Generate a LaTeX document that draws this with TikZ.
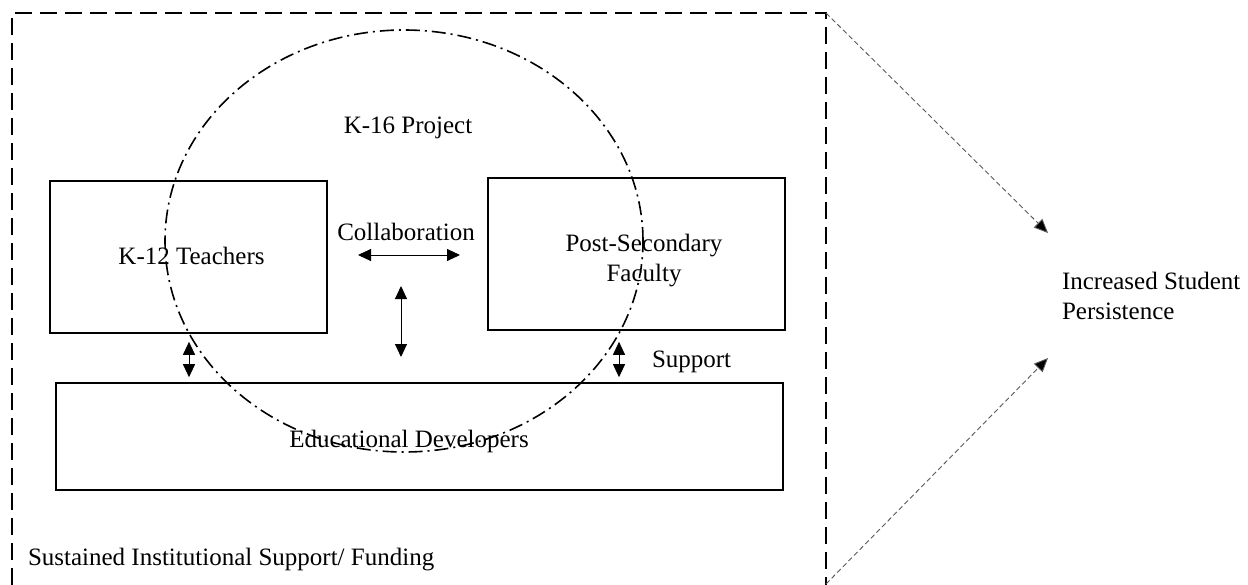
\documentclass[tikz,border=0pt]{standalone}
\usepackage{fontspec}
\setmainfont{Liberation Serif}
\usetikzlibrary{arrows.meta,calc,shapes.geometric}

\tikzset{
  txt/.style={font=\fontsize{25}{30}\selectfont, inner sep=0pt, outer sep=0pt},
  box/.style={draw, line width=1.6pt, rectangle, inner sep=0pt},
  frameline/.style={line width=1.8pt, dash pattern=on 17pt off 8pt},
  projring/.style={draw, ellipse, line width=1.6pt, inner sep=0pt,
    dash pattern=on 14pt off 5pt on 2pt off 5pt},
  dbl/.style={line width=1pt, {Triangle[length=13pt,width=12pt]}-{Triangle[length=13pt,width=12pt]}},
  outcome/.style={line width=0.9pt, draw=black!65, dash pattern=on 5pt off 3pt,
    -{Triangle[length=14pt,width=12pt,fill=black]}},
}

\begin{document}
\begin{tikzpicture}[x=1pt,y=-1pt]
\clip (0,0) rectangle (1248,584);
\fill[white] (0,0) rectangle (1248,584);

% institutional frame (runs past the lower edge)
\coordinate (ftl) at (12,13);
\coordinate (ftr) at (826,13);
\coordinate (fbr) at (826,584);
\draw[frameline] (12,610) -- (ftl) -- (ftr) -- (826,610);

% project boundary
\node[projring, minimum width=478pt, minimum height=422pt] (project) at (404,241) {};

% participant boxes
\node[box, minimum width=277pt, minimum height=152pt] (k12) at (188.5,257) {};
\node[box, minimum width=297pt, minimum height=152pt] (post) at (636.5,254) {};
\node[box, minimum width=727pt, minimum height=107pt] (dev) at (419.5,436.5) {};

% labels
\node[txt, anchor=base] (k16lbl) at (408,133) {K-16 Project};
\node[txt, anchor=base] (k12lbl) at (191.5,264) {K-12 Teachers};
\node[txt, align=center] (postlbl) at (644,261) {Post-Secondary\\Faculty};
\node[txt, anchor=base] (collab) at (406,240) {Collaboration};
\node[txt, anchor=base west] (supp) at (652,367) {Support};
\node[txt, anchor=base] (devlbl) at (409,447) {Educational Developers};
\node[txt, anchor=base west] (fund) at (28,565) {Sustained Institutional Support/ Funding};
\node[txt, align=left, anchor=west] (result) at (1062,295.5) {Increased Student\\Persistence};

% collaboration arrows
\coordinate (ch1) at (358,255);
\coordinate (ch2) at (460,255);
\draw[dbl] (ch1) -- (ch2);
\coordinate (cv1) at (401,286);
\coordinate (cv2) at (401,357);
\draw[dbl] (cv1) -- (cv2);

% support arrows
\draw[dbl, shorten <=8pt, shorten >=5pt] ([xshift=0.5pt]k12.south) -- ([xshift=0.5pt]k12.south |- dev.north);
\draw[dbl, shorten <=11pt, shorten >=5pt] ([xshift=-17.5pt]post.south) -- ([xshift=-17.5pt]post.south |- dev.north);

% outcome arrows
\coordinate (tipa) at (1048,233);
\coordinate (tipb) at (1048,358);
\draw[outcome] (ftr) -- (tipa);
\draw[outcome] (fbr) -- (tipb);
\end{tikzpicture}
\end{document}
